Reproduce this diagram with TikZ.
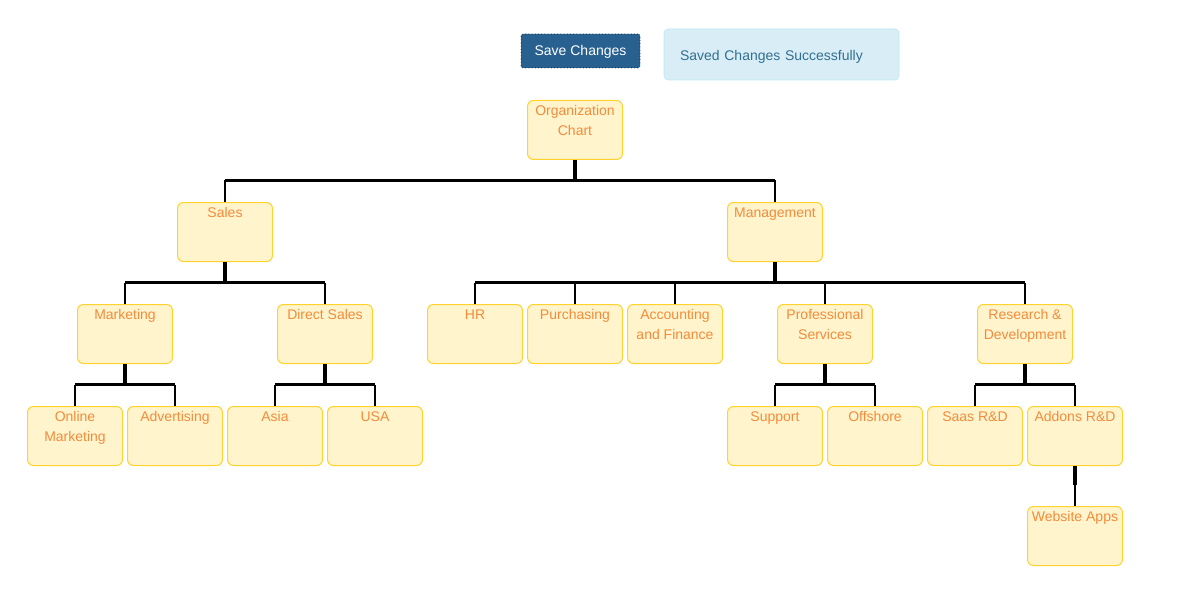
\documentclass[tikz,border=0pt]{standalone}
\usepackage{fontspec}
\setmainfont{Liberation Sans}
\usepackage{tikz}
\usetikzlibrary{positioning}
\definecolor{unitfill}{HTML}{FFF4CC}
\definecolor{unitline}{HTML}{FFD22E}
\definecolor{unittext}{HTML}{F28C3C}
\definecolor{btnfill}{HTML}{286090}
\definecolor{alertfill}{HTML}{D9EDF7}
\definecolor{alertline}{HTML}{BCE8F1}
\definecolor{alerttext}{HTML}{31708F}

\begin{document}
\begin{tikzpicture}
          [x=0.75pt, y=-0.75pt, node distance=3pt,
           unit/.style={draw=unitline, fill=unitfill, text=unittext,
             rounded corners=4.5pt, line width=0.75pt, anchor=north,
             minimum width=71.25pt, inner xsep=0pt, inner ysep=0pt,
             align=center, text height=11.5pt, text depth=32.75pt,
             font=\fontsize{10.5}{15}\selectfont},
           twoline/.style={unit, text height=26.5pt, text depth=17.75pt},
           stub/.style={line width=3pt},
           bar/.style={line width=2.25pt},
           drop/.style={line width=1.5pt}]
          \useasboundingbox (0,0) rectangle (1181,599);

          \node (save) [draw=black, dotted, preaction={draw=white, solid},
            fill=btnfill, text=white, rounded corners=1.5pt,
            minimum width=89.25pt, minimum height=25.5pt,
            text height=9pt, text depth=1.5pt,
            font=\fontsize{10.5}{15}\selectfont] at (580.5,51) {Save Changes};
          \node (saved) [draw=alertline, fill=alertfill, text=alerttext,
            rounded corners=3pt, text width=152.25pt, inner xsep=12pt,
            minimum height=38.25pt, align=left,
            text height=10pt, text depth=1.5pt,
            font=\fontsize{10.5}{15}\selectfont] at (781.5,54.5)
            {Saved Changes Successfully};

          \node (org) [twoline] at (575,100) {Organization\\Chart};
          \node (sales) [unit] at (225,202) {Sales};
          \node (mgmt) [unit] at (775,202) {Management};

          \node (mkt) [unit] at (125,304) {Marketing};
          \node (direct) [unit] at (325,304) {Direct Sales};
          \node (hr) [unit] at (475,304) {HR};
          \node (purch) [unit, right = of hr] {Purchasing};
          \node (acc) [twoline, right = of purch] {Accounting\\and Finance};
          \node (prof) [twoline] at (825,304) {Professional\\Services};
          \node (rnd) [twoline] at (1025,304) {Research \&\\Development};

          \node (online) [twoline] at (75,406) {Online\\Marketing};
          \node (adv) [unit, right = of online] {Advertising};
          \node (asia) [unit, right = of adv] {Asia};
          \node (usa) [unit, right = of asia] {USA};
          \node (support) [unit] at (775,406) {Support};
          \node (offshore) [unit, right = of support] {Offshore};
          \node (saas) [unit] at (975,406) {Saas R\&D};
          \node (addons) [unit, right = of saas] {Addons R\&D};
          \node (web) [unit, below = 30pt of addons] {Website Apps};

          \coordinate (b0) at (0,180.5);
          \coordinate (b1) at (0,282.5);
          \coordinate (b2) at (0,384.5);
          \coordinate (b3) at (0,485);

          % top level
          \draw[stub] (org.south) -- (org.south |- b0);
          \draw[bar] (sales.north |- b0) -- (mgmt.north |- b0);
          \draw[drop] (sales.north) -- (sales.north |- b0);
          \draw[drop] (mgmt.north) -- (mgmt.north |- b0);

          % sales
          \draw[stub] (sales.south) -- (sales.south |- b1);
          \draw[bar] (mkt.north |- b1) -- (direct.north |- b1);
          \draw[drop] (mkt.north) -- (mkt.north |- b1);
          \draw[drop] (direct.north) -- (direct.north |- b1);

          % management
          \draw[stub] (mgmt.south) -- (mgmt.south |- b1);
          \draw[bar] (hr.north |- b1) -- (rnd.north |- b1);
          \draw[drop] (hr.north) -- (hr.north |- b1);
          \draw[drop] (purch.north) -- (purch.north |- b1);
          \draw[drop] (acc.north) -- (acc.north |- b1);
          \draw[drop] (prof.north) -- (prof.north |- b1);
          \draw[drop] (rnd.north) -- (rnd.north |- b1);

          % marketing, direct sales
          \draw[stub] (mkt.south) -- (mkt.south |- b2);
          \draw[bar] (online.north |- b2) -- (adv.north |- b2);
          \draw[drop] (online.north) -- (online.north |- b2);
          \draw[drop] (adv.north) -- (adv.north |- b2);
          \draw[stub] (direct.south) -- (direct.south |- b2);
          \draw[bar] (asia.north |- b2) -- (usa.north |- b2);
          \draw[drop] (asia.north) -- (asia.north |- b2);
          \draw[drop] (usa.north) -- (usa.north |- b2);

          % professional services, r&d
          \draw[stub] (prof.south) -- (prof.south |- b2);
          \draw[bar] (support.north |- b2) -- (offshore.north |- b2);
          \draw[drop] (support.north) -- (support.north |- b2);
          \draw[drop] (offshore.north) -- (offshore.north |- b2);
          \draw[stub] (rnd.south) -- (rnd.south |- b2);
          \draw[bar] (saas.north |- b2) -- (addons.north |- b2);
          \draw[drop] (saas.north) -- (saas.north |- b2);
          \draw[drop] (addons.north) -- (addons.north |- b2);

          % addons
          \draw[stub] (addons.south) -- (addons.south |- b3);
          \draw[drop] (web.north) -- (web.north |- b3);
        \end{tikzpicture}
\end{document}
